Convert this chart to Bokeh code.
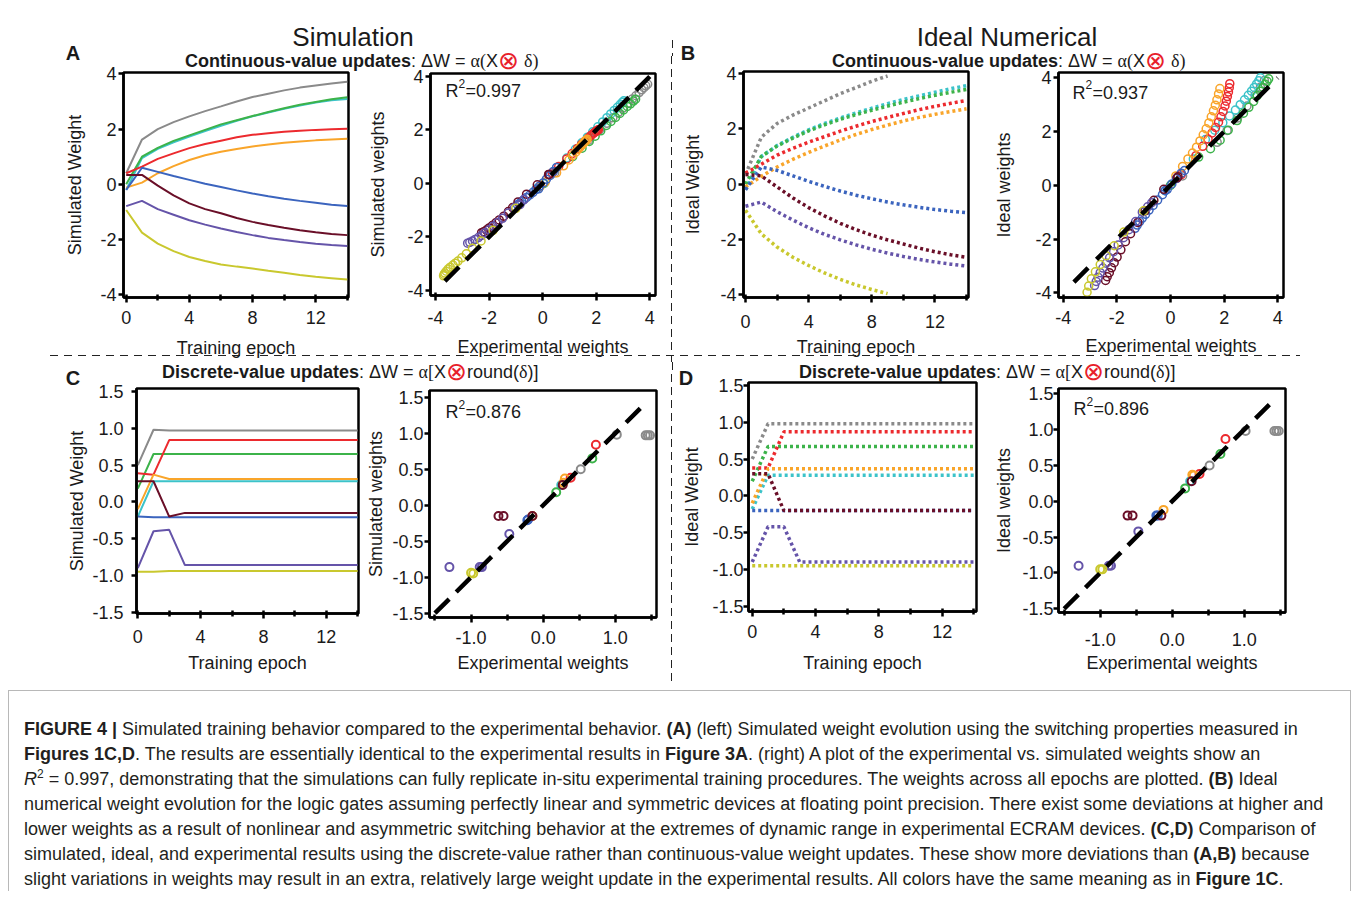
from bokeh.plotting import figure
from bokeh.models import Range1d, FixedTicker, PrintfTickFormatter, Label, Div
from bokeh.layouts import row, column
from bokeh.embed import file_html
from bokeh.resources import INLINE

FONT = "Liberation Sans"

# ---------------- data ----------------
series = ["gray", "cyan", "green", "red", "orange", "blue", "maroon", "purple", "yellow"]
colors = {"gray": "#8a8a8a", "cyan": "#3cc3c9", "green": "#3cb34a", "red": "#ec2a2e",
          "orange": "#f9a52a", "blue": "#3b64be", "maroon": "#6a0f28", "purple": "#6554a9",
          "yellow": "#c9c82e"}

epochs = [0, 1, 2, 3, 4, 5, 6, 7, 8, 9, 10, 11, 12, 13, 14]

# (A) simulated weights, continuous-value updates
sim_cont = {
    "gray":   [0.40, 1.62, 2.00, 2.25, 2.46, 2.65, 2.82, 3.00, 3.16, 3.28, 3.40, 3.50, 3.58, 3.65, 3.71],
    "cyan":   [-0.20, 0.95, 1.28, 1.52, 1.73, 1.93, 2.12, 2.30, 2.46, 2.60, 2.73, 2.85, 2.96, 3.04, 3.09],
    "green":  [0.00, 1.00, 1.32, 1.57, 1.77, 1.97, 2.17, 2.32, 2.47, 2.62, 2.75, 2.88, 2.98, 3.08, 3.15],
    "red":    [0.40, 0.64, 0.92, 1.12, 1.31, 1.46, 1.58, 1.70, 1.79, 1.85, 1.90, 1.94, 1.97, 1.99, 2.01],
    "orange": [-0.12, 0.06, 0.40, 0.66, 0.88, 1.05, 1.18, 1.28, 1.37, 1.44, 1.50, 1.55, 1.59, 1.62, 1.65],
    "blue":   [-0.20, 0.60, 0.45, 0.30, 0.16, 0.02, -0.10, -0.22, -0.33, -0.43, -0.52, -0.60, -0.67, -0.74, -0.79],
    "maroon": [0.34, 0.34, -0.05, -0.40, -0.69, -0.90, -1.05, -1.22, -1.36, -1.47, -1.57, -1.66, -1.74, -1.80, -1.84],
    "purple": [-0.79, -0.60, -0.90, -1.10, -1.30, -1.46, -1.60, -1.73, -1.84, -1.94, -2.02, -2.09, -2.15, -2.20, -2.23],
    "yellow": [-0.93, -1.75, -2.15, -2.42, -2.63, -2.78, -2.90, -2.98, -3.05, -3.13, -3.20, -3.28, -3.35, -3.40, -3.45],
}
# experimental weights (x of the A scatter)
exp_cont = {
    "gray":   [0.45, 1.72, 2.12, 2.40, 2.62, 2.82, 3.00, 3.18, 3.35, 3.48, 3.60, 3.70, 3.78, 3.85, 3.92],
    "cyan":   [-0.24, 0.90, 1.22, 1.46, 1.67, 1.87, 2.06, 2.24, 2.40, 2.54, 2.67, 2.79, 2.90, 2.98, 3.03],
    "green":  [0.05, 1.12, 1.47, 1.74, 1.96, 2.17, 2.38, 2.55, 2.72, 2.88, 3.02, 3.16, 3.28, 3.39, 3.47],
    "red":    [0.36, 0.60, 0.90, 1.10, 1.30, 1.45, 1.58, 1.70, 1.80, 1.87, 1.93, 1.98, 2.02, 2.05, 2.08],
    "orange": [-0.10, 0.10, 0.52, 0.78, 0.98, 1.12, 1.24, 1.33, 1.41, 1.47, 1.52, 1.56, 1.60, 1.63, 1.66],
    "blue":   [-0.15, 0.52, 0.40, 0.28, 0.14, 0.02, -0.12, -0.24, -0.36, -0.48, -0.60, -0.70, -0.78, -0.86, -0.94],
    "maroon": [0.25, 0.22, -0.20, -0.60, -0.92, -1.12, -1.28, -1.45, -1.62, -1.75, -1.88, -2.00, -2.10, -2.20, -2.28],
    "purple": [-0.85, -0.70, -1.05, -1.28, -1.50, -1.68, -1.85, -2.00, -2.15, -2.28, -2.40, -2.52, -2.62, -2.72, -2.80],
    "yellow": [-1.00, -1.85, -2.30, -2.62, -2.85, -3.02, -3.16, -3.26, -3.35, -3.45, -3.53, -3.60, -3.65, -3.68, -3.70],
}

# (B) ideal numerical weights, continuous-value updates
ideal_epochs = {
    "gray": [0, 1, 2, 3, 4, 5, 6, 7, 8, 9],
    "yellow": [0, 1, 2, 3, 4, 5, 6, 7, 8, 9],
}
ideal_cont = {
    "gray":   [0.35, 1.70, 2.20, 2.50, 2.76, 3.02, 3.28, 3.50, 3.73, 3.92],
    "cyan":   [-0.20, 1.00, 1.40, 1.70, 1.97, 2.20, 2.40, 2.58, 2.75, 2.92, 3.07, 3.20, 3.33, 3.46, 3.57],
    "green":  [0.00, 1.00, 1.38, 1.67, 1.93, 2.15, 2.35, 2.52, 2.68, 2.83, 2.97, 3.10, 3.22, 3.33, 3.43],
    "red":    [0.40, 0.72, 1.05, 1.30, 1.52, 1.72, 1.92, 2.10, 2.27, 2.42, 2.56, 2.70, 2.82, 2.93, 3.03],
    "orange": [-0.10, 0.28, 0.62, 0.90, 1.15, 1.38, 1.60, 1.80, 1.98, 2.14, 2.29, 2.42, 2.53, 2.63, 2.73],
    "blue":   [-0.20, 0.62, 0.50, 0.30, 0.10, -0.08, -0.25, -0.40, -0.53, -0.65, -0.75, -0.84, -0.92, -0.98, -1.03],
    "maroon": [0.35, 0.30, -0.10, -0.50, -0.85, -1.15, -1.42, -1.65, -1.85, -2.02, -2.17, -2.32, -2.45, -2.56, -2.65],
    "purple": [-0.80, -0.65, -1.00, -1.30, -1.58, -1.82, -2.02, -2.20, -2.36, -2.50, -2.62, -2.73, -2.82, -2.90, -2.97],
    "yellow": [-0.95, -1.80, -2.28, -2.65, -2.95, -3.22, -3.45, -3.65, -3.82, -3.97],
}
# (B) scatter: experimental (x) vs ideal (y)
exp_b = {
    "gray":   [0.45, 1.74, 2.11, 2.50, 2.85, 3.15, 3.35, 3.50],
    "cyan":   [-0.20, 0.85, 1.30, 1.65, 1.95, 2.20, 2.42, 2.60, 2.76, 2.90, 3.02, 3.12, 3.21, 3.29, 3.35],
    "green":  [0.00, 1.05, 1.49, 1.85, 2.15, 2.48, 2.72, 2.92, 3.10, 3.23, 3.35, 3.45, 3.53, 3.60, 3.66],
    "red":    [0.40, 0.95, 1.20, 1.40, 1.55, 1.68, 1.79, 1.88, 1.96, 2.03, 2.08, 2.12, 2.16, 2.19, 2.21],
    "orange": [0.20, 0.45, 0.65, 0.82, 0.97, 1.10, 1.22, 1.33, 1.43, 1.52, 1.60, 1.67, 1.73, 1.79, 1.84],
    "blue":   [-0.20, 0.52, 0.40, 0.22, 0.05, -0.12, -0.30, -0.48, -0.65, -0.80, -0.93, -1.05, -1.15, -1.24, -1.32],
    "maroon": [0.28, 0.25, -0.25, -0.62, -0.95, -1.22, -1.49, -1.68, -1.85, -1.99, -2.10, -2.20, -2.28, -2.36, -2.42],
    "purple": [-0.85, -0.70, -1.05, -1.30, -1.55, -1.75, -1.95, -2.12, -2.27, -2.40, -2.52, -2.62, -2.70, -2.77, -2.83],
    "yellow": [-1.00, -1.74, -2.10, -2.40, -2.62, -2.80, -2.95, -3.05, -3.11],
}
ideal_b = {
    "gray":   [0.35, 1.60, 2.04, 2.50, 2.95, 3.35, 3.65, 3.90],
    "cyan":   [-0.20, 0.98, 1.70, 2.05, 2.33, 2.58, 2.80, 3.00, 3.18, 3.35, 3.50, 3.64, 3.77, 3.89, 4.00],
    "green":  [0.00, 1.05, 1.36, 1.68, 2.05, 2.41, 2.68, 2.90, 3.12, 3.34, 3.50, 3.64, 3.76, 3.87, 3.96],
    "red":    [0.40, 1.10, 1.45, 1.72, 1.95, 2.15, 2.35, 2.55, 2.75, 2.95, 3.13, 3.30, 3.47, 3.63, 3.78],
    "orange": [0.35, 0.70, 0.98, 1.20, 1.42, 1.65, 1.88, 2.10, 2.32, 2.55, 2.77, 2.98, 3.18, 3.40, 3.60],
    "blue":   [-0.20, 0.55, 0.45, 0.25, 0.05, -0.15, -0.35, -0.55, -0.75, -0.92, -1.08, -1.22, -1.35, -1.48, -1.60],
    "maroon": [0.32, 0.28, -0.15, -0.56, -0.95, -1.38, -1.80, -2.10, -2.40, -2.67, -2.88, -3.07, -3.25, -3.40, -3.54],
    "purple": [-0.80, -0.65, -1.00, -1.35, -1.65, -1.95, -2.22, -2.47, -2.70, -2.90, -3.08, -3.25, -3.42, -3.58, -3.73],
    "yellow": [-0.95, -1.74, -2.25, -2.62, -2.95, -3.22, -3.48, -3.75, -3.98],
}

# (C) simulated weights, discrete-value updates
sim_disc = {
    "gray":   [0.50, 0.98, 0.97, 0.97, 0.97, 0.97, 0.97, 0.97, 0.97, 0.97, 0.97, 0.97, 0.97, 0.97, 0.97],
    "red":    [0.39, 0.37, 0.84, 0.84, 0.84, 0.84, 0.84, 0.84, 0.84, 0.84, 0.84, 0.84, 0.84, 0.84, 0.84],
    "green":  [0.18, 0.65, 0.65, 0.65, 0.65, 0.65, 0.65, 0.65, 0.65, 0.65, 0.65, 0.65, 0.65, 0.65, 0.65],
    "orange": [-0.10, 0.37, 0.31, 0.31, 0.31, 0.31, 0.31, 0.31, 0.31, 0.31, 0.31, 0.31, 0.31, 0.31, 0.31],
    "cyan":   [-0.20, 0.28, 0.28, 0.28, 0.28, 0.28, 0.28, 0.28, 0.28, 0.28, 0.28, 0.28, 0.28, 0.28, 0.28],
    "maroon": [0.28, 0.28, -0.20, -0.15, -0.15, -0.15, -0.15, -0.15, -0.15, -0.15, -0.15, -0.15, -0.15, -0.15, -0.15],
    "blue":   [-0.20, -0.21, -0.21, -0.21, -0.21, -0.21, -0.21, -0.21, -0.21, -0.21, -0.21, -0.21, -0.21, -0.21, -0.21],
    "purple": [-0.90, -0.40, -0.38, -0.86, -0.86, -0.86, -0.86, -0.86, -0.86, -0.86, -0.86, -0.86, -0.86, -0.86, -0.86],
    "yellow": [-0.95, -0.95, -0.94, -0.94, -0.94, -0.94, -0.94, -0.94, -0.94, -0.94, -0.94, -0.94, -0.94, -0.94, -0.94],
}
# (D) ideal weights, discrete-value updates
ideal_disc = {
    "gray":   [0.50, 0.98, 0.98, 0.98, 0.98, 0.98, 0.98, 0.98, 0.98, 0.98, 0.98, 0.98, 0.98, 0.98, 0.98],
    "red":    [0.38, 0.38, 0.87, 0.87, 0.87, 0.87, 0.87, 0.87, 0.87, 0.87, 0.87, 0.87, 0.87, 0.87, 0.87],
    "green":  [0.20, 0.67, 0.67, 0.67, 0.67, 0.67, 0.67, 0.67, 0.67, 0.67, 0.67, 0.67, 0.67, 0.67, 0.67],
    "orange": [-0.10, 0.37, 0.37, 0.37, 0.37, 0.37, 0.37, 0.37, 0.37, 0.37, 0.37, 0.37, 0.37, 0.37, 0.37],
    "cyan":   [-0.18, 0.28, 0.28, 0.28, 0.28, 0.28, 0.28, 0.28, 0.28, 0.28, 0.28, 0.28, 0.28, 0.28, 0.28],
    "maroon": [0.30, 0.30, -0.20, -0.20, -0.20, -0.20, -0.20, -0.20, -0.20, -0.20, -0.20, -0.20, -0.20, -0.20, -0.20],
    "blue":   [-0.20, -0.20, -0.20, -0.20, -0.20, -0.20, -0.20, -0.20, -0.20, -0.20, -0.20, -0.20, -0.20, -0.20, -0.20],
    "purple": [-0.90, -0.42, -0.42, -0.90, -0.90, -0.90, -0.90, -0.90, -0.90, -0.90, -0.90, -0.90, -0.90, -0.90, -0.90],
    "yellow": [-0.95, -0.95, -0.95, -0.95, -0.95, -0.95, -0.95, -0.95, -0.95, -0.95, -0.95, -0.95, -0.95, -0.95, -0.95],
}
# (C) scatter: experimental (x) vs simulated (y)
exp_c = {
    "gray": [1.02, 1.42, 1.45, 1.48, 0.52], "red": [0.73, 0.38], "green": [0.68, 0.18],
    "orange": [0.30, 0.28, -0.15], "cyan": [0.25], "maroon": [-0.62, -0.55, 0.27, -0.15],
    "blue": [-0.22, -0.21], "purple": [-1.30, -0.47, -0.88, -0.85], "yellow": [-1.00, -0.97],
}
sim_c = {
    "gray": [0.98, 0.97, 0.97, 0.97, 0.50], "red": [0.84, 0.38], "green": [0.65, 0.18],
    "orange": [0.37, 0.31, -0.15], "cyan": [0.28], "maroon": [-0.15, -0.15, 0.28, -0.15],
    "blue": [-0.21, -0.20], "purple": [-0.86, -0.40, -0.86, -0.86], "yellow": [-0.94, -0.95],
}
# (D) scatter: experimental (x) vs ideal (y)
exp_d = {
    "gray": [1.02, 1.42, 1.45, 1.48, 0.52], "red": [0.74, 0.38], "green": [0.67, 0.18],
    "orange": [0.28, 0.30, -0.12], "cyan": [0.25], "maroon": [-0.62, -0.55, 0.27, -0.15],
    "blue": [-0.22, -0.20], "purple": [-1.30, -0.47, -0.88, -0.85], "yellow": [-1.00, -0.97],
}
ideal_d = {
    "gray": [0.98, 0.98, 0.98, 0.98, 0.50], "red": [0.87, 0.38], "green": [0.66, 0.18],
    "orange": [0.37, 0.36, -0.12], "cyan": [0.28], "maroon": [-0.20, -0.20, 0.28, -0.20],
    "blue": [-0.20, -0.20], "purple": [-0.90, -0.42, -0.90, -0.90], "yellow": [-0.95, -0.95],
}

# y = x reference line extents and R^2 values
fit_a = [-3.65, 4.0]
fit_b = [-3.6, 4.0]
fit_c = [-1.5, 1.35]
fit_d = [-1.5, 1.35]
r2 = {"A": "0.997", "B": "0.937", "C": "0.876", "D": "0.896"}

epoch_ticks = [0, 4, 8, 12]
epoch_minor = [2, 6, 10, 14]
w4_ticks = [-4, -2, 0, 2, 4]
w15_ticks = [-1.5, -1.0, -0.5, 0.0, 0.5, 1.0, 1.5]
w1_ticks = [-1.0, 0.0, 1.0]
w1_minor = [-1.5, -0.5, 0.5, 1.5]

ROW1_H = 306   # row 1 canvas height (page y 56..362)
ROW2_H = 316   # row 2 canvas height (page y 374..690)


# ---------------- helpers ----------------
def make_fig(w, h, left, right, top, bottom, xr, yr):
    p = figure(width=w, height=h, x_range=Range1d(*xr), y_range=Range1d(*yr),
               toolbar_location=None, output_backend="svg",
               min_border_left=left, min_border_right=right,
               min_border_top=top, min_border_bottom=bottom, margin=0,
               frame_align=False)
    p.grid.visible = False
    p.outline_line_color = "black"
    p.outline_line_width = 2.5
    p.background_fill_color = "white"
    p.border_fill_color = None
    return p


def style_axes(p, xt, xm, yt, ym, xfmt, yfmt, xlab, ylab, x_std, x_lstd, y_std, y_lstd):
    xa, ya = p.xaxis[0], p.yaxis[0]
    xa.ticker = FixedTicker(ticks=xt, minor_ticks=xm)
    ya.ticker = FixedTicker(ticks=yt, minor_ticks=ym)
    xa.formatter = PrintfTickFormatter(format=xfmt)
    ya.formatter = PrintfTickFormatter(format=yfmt)
    xa.axis_label = xlab
    ya.axis_label = ylab
    for ax in (xa, ya):
        ax.axis_line_width = 2.5
        ax.axis_line_color = "black"
        ax.major_tick_line_width = 2.5
        ax.minor_tick_line_width = 2.5
        ax.major_tick_line_color = "black"
        ax.minor_tick_line_color = "black"
        ax.major_label_text_font = FONT
        ax.major_label_text_font_size = "18px"
        ax.major_label_text_color = "#1a1a1a"
        ax.axis_label_text_font = FONT
        ax.axis_label_text_font_size = "18px"
        ax.axis_label_text_font_style = "normal"
        ax.axis_label_text_color = "#1a1a1a"
    xa.major_tick_out = 5
    xa.major_tick_in = 3
    xa.minor_tick_out = 3
    xa.minor_tick_in = 3
    ya.major_tick_out = 5
    ya.major_tick_in = 0
    ya.minor_tick_out = 3
    ya.minor_tick_in = 3
    xa.major_label_standoff = x_std
    xa.axis_label_standoff = x_lstd
    ya.major_label_standoff = y_std
    ya.axis_label_standoff = y_lstd


def add_r2(p, x, y, val):
    common = dict(x=x, y=y, text_font=FONT, text_align="left", text_baseline="middle",
                  text_color="#1a1a1a")
    p.add_layout(Label(text="R", text_font_size="18px", **common))
    p.add_layout(Label(text="2", text_font_size="12px", x_offset=13, y_offset=8, **common))
    p.add_layout(Label(text="=" + val, text_font_size="18px", x_offset=20, **common))


# ---------------- panel A ----------------
fA1 = make_fig(354, ROW1_H, 115, 14, 16, 65, (-0.171, 14.08), (-4.098, 4.047))
for s in series:
    fA1.line(epochs, sim_cont[s], line_color=colors[s], line_width=2)
style_axes(fA1, epoch_ticks, epoch_minor, w4_ticks, [], "%d", "%d",
           "Training epoch", "Simulated Weight", 8, 11, 2, 12)

fA2 = make_fig(309, ROW1_H, 68, 16, 17, 67, (-4.187, 4.213), (-4.187, 4.112))
for s in series:
    fA2.scatter(exp_cont[s], sim_cont[s], marker="circle", size=8, fill_color=None,
                line_color=colors[s], line_width=1.5)
fA2.line(fit_a, fit_a, line_color="black", line_width=4.5, line_dash="20 10")
add_r2(fA2, -3.63, 3.44, r2["A"])
style_axes(fA2, w4_ticks, [], w4_ticks, [], "%d", "%d",
           "Experimental weights", "Simulated weights", 10, 10, 2, 16)

# ---------------- panel B ----------------
fB1 = make_fig(317, ROW1_H, 70, 22, 15, 65, (-0.127, 14.127), (-4.109, 4.083))
for s in series:
    xs = ideal_epochs.get(s, epochs)
    fB1.line(xs, ideal_cont[s], line_color=colors[s], line_width=3.5, line_dash="3 3")
style_axes(fB1, epoch_ticks, epoch_minor, w4_ticks, [], "%d", "%d",
           "Training epoch", "Ideal Weight", 12, 6, 2, 14)

fB2 = make_fig(353, ROW1_H, 68, 60, 16, 65, (-4.175, 4.212), (-4.175, 4.197))
for s in series:
    fB2.scatter(exp_b[s], ideal_b[s], marker="circle", size=8, fill_color=None,
                line_color=colors[s], line_width=1.5)
fB2.line(fit_b, fit_b, line_color="black", line_width=4.5, line_dash="20 12")
add_r2(fB2, -3.65, 3.45, r2["B"])
style_axes(fB2, w4_ticks, [], w4_ticks, [], "%d", "%d",
           "Experimental weights", "Ideal weights", 8, 9, 2, 18)

# ---------------- panel C ----------------
fC1 = make_fig(355, ROW2_H, 128, 5, 14, 77, (-0.083, 14.057), (-1.518, 1.541))
for s in series:
    fC1.line(epochs, sim_disc[s], line_color=colors[s], line_width=2)
style_axes(fC1, epoch_ticks, epoch_minor, w15_ticks, [], "%d", "%.1f",
           "Training epoch", "Simulated Weight", 11, 7, 8, 2)

fC2 = make_fig(308, ROW2_H, 66, 15, 16, 73, (-1.576, 1.570), (-1.560, 1.593))
for s in series:
    fC2.scatter(exp_c[s], sim_c[s], marker="circle", size=8, fill_color=None,
                line_color=colors[s], line_width=2)
fC2.line(fit_c, fit_c, line_color="black", line_width=4.5, line_dash="20 10")
add_r2(fC2, -1.354, 1.288, r2["C"])
style_axes(fC2, w1_ticks, w1_minor, w15_ticks, [], "%.1f", "%.1f",
           "Experimental weights", "Simulated weights", 8, 6, 1, 3)

# ---------------- panel D ----------------
fD1 = make_fig(317, ROW2_H, 75, 14, 8, 79, (-0.234, 14.167), (-1.572, 1.541))
for s in series:
    fD1.line(epochs, ideal_disc[s], line_color=colors[s], line_width=3.5, line_dash="3 3")
style_axes(fD1, epoch_ticks, epoch_minor, w15_ticks, [], "%d", "%.1f",
           "Training epoch", "Ideal Weight", 8, 12, 0, 7)

fD2 = make_fig(353, ROW2_H, 68, 58, 14, 78, (-1.579, 1.574), (-1.552, 1.574))
for s in series:
    fD2.scatter(exp_d[s], ideal_d[s], marker="circle", size=8, fill_color=None,
                line_color=colors[s], line_width=2)
fD2.line(fit_d, fit_d, line_color="black", line_width=4.5, line_dash="20 10")
add_r2(fD2, -1.371, 1.281, r2["D"])
style_axes(fD2, w1_ticks, w1_minor, w15_ticks, [], "%.1f", "%.1f",
           "Experimental weights", "Ideal weights", 15, 4, 0, 5)

# ---------------- text / separators ----------------
VDASH = "repeating-linear-gradient(to bottom,#222 0px,#222 8px,transparent 8px,transparent 13px)"
HDASH = "repeating-linear-gradient(to right,#222 0px,#222 8px,transparent 8px,transparent 14px)"
BASE = "font-family:'Liberation Sans',Arial,sans-serif;color:#1a1a1a;"
SERIF = "font-family:'Liberation Serif','Times New Roman',serif;"
OTIMES = ('<span style="color:#e8202a;font-size:25px;line-height:18px;font-weight:normal;'
          'vertical-align:-2px;">\u2297</span>')


def sub_cont():
    return ('<b>Continuous-value updates</b>: \u0394W = <span style="%s">\u03b1(</span>X%s '
            '<span style="%s">\u03b4)</span>' % (SERIF, OTIMES, SERIF))


def sub_disc():
    return ('<b>Discrete-value updates</b>: \u0394W = <span style="%s">\u03b1[</span>X%s'
            'round(<span style="%s">\u03b4</span>)]' % (SERIF, OTIMES, SERIF))


def span(left, top, size, txt, extra="", center=False):
    tr = "transform:translateX(-50%);" if center else ""
    return ('<span style="position:absolute;left:%dpx;top:%dpx;font-size:%dpx;line-height:%dpx;'
            'white-space:nowrap;%s%s">%s</span>' % (left, top, size, size, tr, extra, txt))


HDR_STYLES = {"overflow": "visible", "z-index": "2"}

header1_html = (
    '<div style="position:relative;width:1343px;height:48px;overflow:visible;%s">' % BASE
    + span(345, 16, 26, "Simulation", center=True)
    + span(999, 16, 26, "Ideal Numerical", center=True)
    + span(65, 35, 20, "A", "font-weight:bold;", center=True)
    + span(680, 35, 20, "B", "font-weight:bold;", center=True)
    + span(177, 43, 18, sub_cont())
    + span(824, 43, 18, sub_cont())
    + '<div style="position:absolute;left:664px;top:32px;width:1px;height:16px;background:%s;"></div>' % VDASH
    + '</div>'
)
header1 = Div(text=header1_html, width=1343, height=48, margin=0, styles=HDR_STYLES)

# header2 occupies page y 362..374; its contents overflow above and below
header2_html = (
    '<div style="position:relative;width:1343px;height:12px;overflow:visible;%s">' % BASE
    + '<div style="position:absolute;left:42px;top:-7px;width:1250px;height:1px;background:%s;"></div>' % HDASH
    + span(154, 0, 18, sub_disc())
    + span(791, 0, 18, sub_disc())
    + span(65, 6, 20, "C", "font-weight:bold;", center=True)
    + span(678, 6, 20, "D", "font-weight:bold;", center=True)
    + '<div style="position:absolute;left:664px;top:0px;width:1px;height:12px;background:%s;"></div>' % VDASH
    + '</div>'
)
header2 = Div(text=header2_html, width=1343, height=12, margin=0, styles=HDR_STYLES)


def vsep(h, hh):
    return Div(text='<div style="width:1px;height:%dpx;background:%s;"></div>' % (hh, VDASH),
               width=2, height=h, margin=0)


caption_lines = [
    "<b>FIGURE 4 |</b> Simulated training behavior compared to the experimental behavior. <b>(A)</b> (left) Simulated weight evolution using the switching properties measured in",
    "<b>Figures 1C,D</b>. The results are essentially identical to the experimental results in <b>Figure 3A</b>. (right) A plot of the experimental vs. simulated weights show an",
    "<i>R</i><sup style=\"font-size:12px;line-height:0;\">2</sup> = 0.997, demonstrating that the simulations can fully replicate in-situ experimental training procedures. The weights across all epochs are plotted. <b>(B)</b> Ideal",
    "numerical weight evolution for the logic gates assuming perfectly linear and symmetric devices at floating point precision. There exist some deviations at higher and",
    "lower weights as a result of nonlinear and asymmetric switching behavior at the extremes of dynamic range in experimental ECRAM devices. <b>(C,D)</b> Comparison of",
    "simulated, ideal, and experimental results using the discrete-value rather than continuous-value weight updates. These show more deviations than <b>(A,B)</b> because",
    "slight variations in weights may result in an extra, relatively large weight update in the experimental results. All colors have the same meaning as in <b>Figure 1C</b>.",
]
caption_html = (
    '<div style="position:relative;box-sizing:border-box;width:1343px;height:201px;'
    'border:1px solid #b8b8b8;border-bottom:none;%s">' % BASE
    + '<div style="position:absolute;left:15px;top:26px;font-size:18px;line-height:25px;'
      'white-space:nowrap;color:#231f20;">'
    + "<br>".join(caption_lines)
    + '</div></div>'
)
caption = Div(text=caption_html, width=1343, height=201, margin=0)

layout = column(
    header1,
    row(fA1, fA2, vsep(ROW1_H, ROW1_H), fB1, fB2, margin=0),
    header2,
    row(fC1, fC2, vsep(ROW2_H, ROW2_H - 5), fD1, fD2, margin=0),
    caption,
    margin=(8, 0, 0, 8),
)

open("out.html", "w").write(file_html(layout, INLINE))
